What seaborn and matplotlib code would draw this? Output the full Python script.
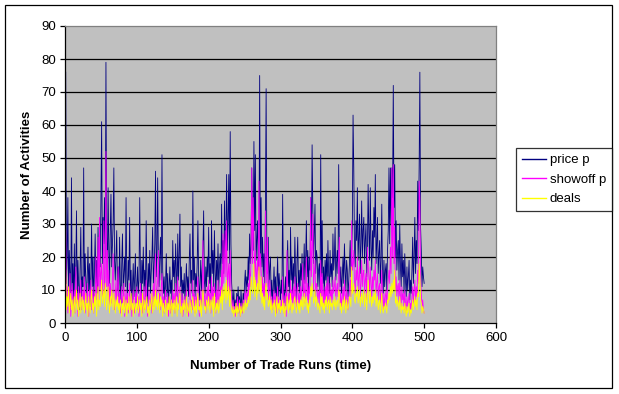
import numpy as np
import pandas as pd
import matplotlib
matplotlib.use("Agg")
import matplotlib.pyplot as plt
import seaborn as sns
from matplotlib.patches import Rectangle

# values, one row = 25 trade runs
price_p = [
    76, 12, 20, 38, 8, 22, 15, 5, 44, 10, 18, 6, 24, 9, 16, 34, 7, 19, 12, 4, 17, 29, 8, 14, 11,
    47, 9, 21, 13, 6, 15, 23, 10, 18, 5, 14, 30, 11, 20, 7, 16, 27, 12, 19, 9, 29, 14, 22, 17, 37,
    61, 18, 32, 24, 38, 20, 79, 26, 15, 41, 22, 12, 28, 39, 17, 24, 30, 47, 19, 13, 21, 28, 10, 17, 8,
    26, 12, 6, 18, 27, 9, 15, 20, 11, 38, 14, 7, 19, 13, 32, 10, 16, 5, 12, 18, 8, 14, 21, 6, 11,
    17, 9, 13, 38, 15, 7, 19, 12, 23, 10, 16, 8, 31, 14, 6, 18, 11, 22, 9, 15, 20, 29, 12, 17, 24,
    46, 14, 21, 44, 18, 11, 20, 26, 13, 51, 16, 9, 14, 7, 12, 21, 8, 15, 5, 11, 17, 9, 13, 6, 25,
    14, 19, 10, 24, 16, 8, 27, 13, 20, 33, 11, 17, 7, 13, 9, 15, 6, 12, 18, 10, 14, 8, 19, 27, 12,
    16, 9, 40, 13, 20, 8, 15, 11, 18, 31, 14, 7, 12, 19, 10, 16, 22, 34, 13, 9, 17, 11, 20, 14, 29,
    12, 18, 9, 31, 15, 22, 11, 28, 16, 8, 19, 13, 24, 10, 17, 21, 14, 36, 18, 25, 15, 37, 20, 28, 45,
    22, 31, 45, 18, 58, 24, 12, 8, 5, 10, 4, 7, 3, 9, 6, 11, 5, 8, 3, 10, 6, 4, 9, 7, 12,
    16, 9, 14, 11, 20, 13, 27, 18, 24, 47, 30, 22, 55, 28, 51, 19, 25, 31, 16, 23, 75, 20, 38, 17, 26,
    14, 21, 11, 35, 71, 19, 15, 26, 10, 17, 20, 8, 13, 6, 11, 17, 9, 14, 5, 12, 20, 8, 15, 11, 7,
    13, 9, 39, 12, 6, 10, 14, 5, 17, 25, 11, 16, 8, 29, 13, 20, 9, 18, 12, 26, 15, 7, 19, 26, 11,
    16, 9, 18, 13, 21, 10, 15, 24, 12, 19, 31, 14, 22, 9, 20, 16, 38, 25, 54, 34, 18, 27, 36, 15, 22,
    20, 11, 16, 18, 9, 51, 14, 31, 12, 17, 8, 19, 13, 21, 10, 25, 15, 9, 22, 14, 18, 11, 27, 16, 20,
    29, 13, 18, 22, 15, 48, 20, 11, 17, 9, 14, 20, 12, 24, 16, 10, 19, 16, 8, 13, 18, 25, 14, 21, 30,
    63, 47, 22, 17, 31, 25, 41, 19, 26, 33, 15, 24, 37, 20, 28, 32, 18, 25, 30, 14, 22, 42, 27, 19, 41,
    23, 16, 28, 20, 35, 26, 45, 18, 24, 32, 15, 21, 25, 12, 19, 36, 14, 9, 19, 11, 16, 18, 10, 22, 28,
    47, 24, 47, 30, 47, 38, 72, 35, 48, 20, 31, 16, 22, 25, 13, 30, 17, 11, 24, 14, 19, 9, 21, 13, 8,
    17, 10, 14, 19, 7, 13, 9, 16, 26, 12, 20, 32, 15, 25, 18, 43, 28, 47, 76, 29, 22, 11, 17, 14, 12,
]

showoff_p = [
    28, 6, 11, 3, 9, 5, 15, 2, 8, 12, 4, 7, 10, 3, 17, 6, 9, 2, 11, 5, 8, 13, 4, 7, 10,
    6, 14, 3, 9, 5, 12, 7, 2, 10, 6, 13, 4, 8, 11, 3, 9, 6, 20, 7, 12, 26, 5, 32, 10, 15,
    18, 8, 13, 31, 9, 14, 52, 11, 22, 7, 16, 5, 12, 9, 6, 14, 21, 10, 4, 8, 13, 6, 11, 17, 5,
    9, 3, 7, 11, 4, 8, 12, 2, 6, 10, 5, 9, 3, 7, 12, 4, 8, 2, 6, 10, 5, 3, 9, 6, 11,
    4, 8, 2, 7, 12, 5, 9, 3, 6, 11, 4, 8, 13, 5, 2, 7, 10, 4, 6, 9, 3, 8, 12, 5, 14,
    21, 7, 10, 13, 22, 6, 9, 4, 11, 15, 5, 8, 3, 7, 10, 4, 6, 9, 2, 5, 8, 3, 7, 4, 10,
    6, 9, 3, 12, 5, 8, 14, 4, 7, 11, 3, 6, 9, 2, 5, 8, 4, 7, 10, 3, 6, 2, 8, 12, 5,
    7, 4, 13, 6, 9, 3, 8, 5, 11, 14, 6, 2, 7, 10, 4, 8, 25, 12, 5, 9, 3, 7, 11, 6, 13,
    5, 9, 3, 14, 7, 11, 4, 12, 8, 3, 10, 6, 13, 5, 8, 11, 7, 16, 9, 27, 12, 17, 28, 14, 31,
    10, 15, 18, 8, 22, 11, 6, 4, 7, 3, 5, 2, 6, 4, 8, 3, 5, 7, 2, 6, 4, 3, 7, 5, 8,
    10, 6, 9, 7, 12, 8, 16, 11, 20, 47, 18, 38, 25, 14, 22, 11, 16, 19, 10, 43, 13, 21, 17, 9, 14,
    8, 12, 6, 34, 20, 11, 26, 7, 10, 13, 9, 5, 8, 4, 7, 10, 5, 9, 3, 7, 11, 4, 8, 6, 3,
    7, 5, 14, 6, 3, 8, 9, 2, 22, 12, 6, 9, 4, 13, 7, 10, 5, 11, 6, 14, 8, 4, 10, 12, 6,
    9, 5, 11, 7, 12, 18, 8, 13, 6, 10, 20, 7, 12, 5, 11, 9, 38, 14, 22, 33, 10, 15, 19, 8, 12,
    11, 6, 9, 10, 5, 19, 8, 15, 6, 10, 4, 11, 7, 12, 5, 14, 8, 4, 12, 7, 10, 6, 13, 9, 11,
    14, 7, 10, 12, 8, 20, 26, 6, 9, 5, 8, 11, 6, 13, 9, 5, 10, 8, 4, 7, 10, 13, 8, 31, 16,
    18, 22, 12, 9, 16, 13, 20, 10, 14, 17, 8, 12, 19, 11, 15, 16, 9, 13, 15, 7, 23, 18, 14, 10, 17,
    12, 8, 14, 10, 16, 13, 19, 9, 12, 15, 7, 11, 12, 6, 10, 16, 7, 4, 9, 5, 8, 10, 5, 11, 13,
    16, 12, 23, 15, 47, 20, 48, 18, 29, 10, 14, 8, 11, 12, 6, 13, 8, 5, 11, 7, 9, 4, 10, 6, 3,
    8, 5, 7, 9, 3, 6, 4, 8, 11, 6, 10, 13, 7, 11, 8, 16, 12, 43, 38, 14, 9, 5, 7, 4, 3,
]

deals = [
    16, 4, 8, 5, 11, 3, 6, 9, 4, 7, 2, 5, 8, 3, 6, 10, 4, 7, 2, 5, 9, 3, 6, 8, 4,
    7, 3, 5, 9, 4, 6, 2, 8, 5, 3, 7, 10, 4, 6, 3, 8, 5, 9, 2, 6, 11, 4, 7, 5, 9,
    13, 6, 8, 10, 5, 12, 9, 4, 7, 11, 6, 3, 8, 5, 10, 7, 4, 9, 6, 3, 7, 5, 8, 4, 6,
    3, 7, 5, 2, 6, 4, 8, 3, 5, 7, 2, 6, 4, 8, 3, 5, 9, 4, 6, 2, 7, 5, 3, 6, 4,
    8, 3, 5, 7, 4, 6, 2, 9, 5, 3, 7, 4, 6, 8, 3, 5, 2, 7, 4, 6, 9, 3, 5, 8, 4,
    10, 5, 7, 4, 9, 6, 3, 8, 5, 7, 2, 6, 4, 3, 7, 5, 2, 6, 4, 8, 3, 5, 7, 2, 6,
    4, 7, 3, 5, 8, 2, 6, 4, 7, 9, 3, 5, 2, 6, 4, 7, 3, 5, 8, 2, 6, 4, 3, 7, 5,
    3, 6, 8, 4, 5, 2, 7, 3, 6, 9, 4, 5, 3, 7, 2, 6, 10, 8, 4, 5, 3, 7, 6, 4, 8,
    5, 3, 7, 6, 4, 8, 2, 9, 5, 3, 6, 4, 7, 3, 5, 8, 6, 10, 4, 11, 7, 9, 12, 6, 13,
    7, 9, 11, 5, 10, 6, 4, 3, 5, 2, 4, 3, 6, 2, 5, 3, 4, 6, 2, 5, 3, 4, 6, 3, 5,
    7, 4, 6, 5, 8, 6, 10, 7, 14, 12, 9, 11, 18, 8, 13, 10, 7, 12, 9, 17, 11, 8, 14, 6, 9,
    5, 8, 4, 10, 12, 7, 9, 5, 6, 8, 4, 7, 3, 5, 6, 4, 7, 2, 5, 8, 3, 6, 4, 7, 3,
    5, 4, 7, 3, 6, 2, 5, 4, 8, 6, 3, 7, 4, 9, 5, 3, 6, 4, 7, 8, 5, 3, 6, 7, 4,
    6, 3, 7, 5, 8, 4, 6, 9, 5, 7, 8, 4, 6, 3, 7, 5, 11, 8, 12, 9, 6, 7, 10, 5, 8,
    7, 4, 6, 5, 3, 9, 5, 8, 4, 6, 3, 7, 5, 8, 4, 6, 7, 3, 8, 5, 6, 4, 7, 6, 5,
    8, 4, 6, 7, 5, 10, 9, 4, 6, 3, 5, 7, 4, 8, 6, 3, 7, 5, 4, 6, 8, 7, 5, 17, 9,
    10, 12, 7, 6, 9, 8, 11, 6, 8, 10, 5, 7, 9, 6, 8, 10, 5, 7, 9, 4, 8, 13, 9, 6, 10,
    7, 5, 8, 6, 9, 7, 10, 5, 7, 8, 4, 6, 7, 3, 6, 9, 4, 3, 5, 4, 6, 5, 3, 7, 6,
    9, 7, 11, 8, 12, 9, 13, 10, 16, 6, 8, 5, 7, 6, 4, 8, 5, 3, 6, 4, 5, 3, 6, 4, 2,
    5, 3, 4, 6, 2, 4, 3, 5, 7, 4, 6, 8, 5, 7, 4, 9, 8, 18, 14, 7, 6, 3, 5, 4, 3,
]

series_names = ["price p", "showoff p", "deals"]
series_colors = ["#000080", "#FF00FF", "#FFFF00"]
x_ticks = list(range(0, 700, 100))
y_ticks = list(range(0, 100, 10))

runs = np.arange(1, len(price_p) + 1)
df = pd.concat([
    pd.DataFrame({"run": runs, "count": vals, "series": name})
    for name, vals in zip(series_names, [price_p, showoff_p, deals])
], ignore_index=True)

plt.rcParams['font.family'] = ['Liberation Sans', 'DejaVu Sans']
plt.rcParams['font.size'] = 9.5

fig = plt.figure(figsize=(6.19, 3.94), dpi=100)
ax = fig.add_axes([65 / 619, 1 - 323 / 394, 431 / 619, 297 / 394])
ax.set_facecolor("#C0C0C0")

sns.lineplot(data=df, x="run", y="count", hue="series", hue_order=series_names,
             palette=dict(zip(series_names, series_colors)), estimator=None,
             linewidth=0.6, ax=ax, legend=False)

ax.set_xlim(0, 600)
ax.set_ylim(0, 90)
ax.set_xticks(x_ticks)
ax.set_yticks(y_ticks)
for v in y_ticks[1:-1]:
    ax.axhline(v, color="black", linewidth=0.9, zorder=0.5)

for side in ["top", "right"]:
    ax.spines[side].set_color("#808080")
for side in ["left", "bottom"]:
    ax.spines[side].set_color("black")
for s in ax.spines.values():
    s.set_linewidth(0.9)
ax.tick_params(direction="out", length=3.5, width=0.9, colors="black", pad=3)

ax.set_xlabel("Number of Trade Runs (time)", fontweight="bold")
ax.set_ylabel("Number of Activities", fontweight="bold")
ax.xaxis.set_label_coords(0.5, -0.125)
ax.yaxis.set_label_coords(-0.074, 0.5)

handles = [plt.Line2D([], [], color=c, linewidth=1) for c in series_colors]
leg = fig.legend(handles, series_names, loc="center", bbox_to_anchor=(0.911, 0.544),
                 frameon=True, fancybox=False, shadow=False, handlelength=1.8,
                 handletextpad=0.3, labelspacing=0.55, borderpad=0.45, borderaxespad=0)
leg.get_frame().set_edgecolor("black")
leg.get_frame().set_linewidth(0.9)

fig.patches.append(Rectangle((5 / 619, 1 - 388 / 394), 607 / 619, 383 / 394,
                             transform=fig.transFigure, fill=False,
                             edgecolor="black", linewidth=0.9))

fig.savefig("out.png", dpi=100, facecolor="white")
